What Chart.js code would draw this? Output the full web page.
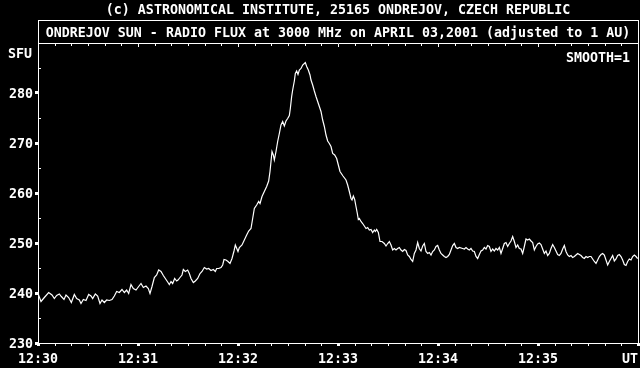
<!DOCTYPE html>
<html lang="en">
<head>
<meta charset="UTF-8">
<title>Ondrejov Sun - Radio Flux at 3000 MHz</title>
<script src="https://cdn.jsdelivr.net/npm/chart.js"></script>
<style>
    body {
        margin: 0;
        background-color: #000;
    }
    canvas {
        display: block;
    }
</style>
</head>
<body>
<canvas id="fluxChart" width="640" height="368"></canvas>
<script>
    // seconds after 12:30:00 UT
    const seconds = [
        0, 1.8, 3.8, 6.4, 8.4, 9.8, 11.2, 12.8, 14, 15.6, 16.8, 18.4, 20, 21.8, 23.2, 24.8, 25.8, 27.2, 28.8, 30.4,
        31.8, 32.8, 34.4, 35.8, 37.2, 38.4, 39.8, 41.2, 42.8, 44.4, 45.8, 47.2, 48.8, 50.4, 51.8, 53.2, 54.4, 55.8, 57.2,
        58.8, 60.4, 61.8, 63.2, 64.8, 66.2, 67.2, 68.4, 69.8, 71.2, 72.4, 73.8, 75.2, 76.8, 78, 78.8, 79.8, 80.8, 82, 83.2,
        84, 85.2, 86.4, 87.2, 88.4, 89.8, 90.8, 91.8, 93.2, 94.4, 95.8, 97.2, 98.4, 99.8, 101.2, 102.4, 103.8, 105.2, 106.4, 107.2,
        108.4, 109.8, 110.8, 111.6, 112.8, 114, 115.2, 116.4, 117.6, 118.4, 120, 120.8,
        122.4, 123.8, 125.2, 126.4, 127.8, 128.8, 129.8, 131.2, 132.4, 133.2, 134.4, 135.8, 137.2, 138.4, 139.2, 139.8, 140.4, 141.2, 141.8, 142.8,
        143.8, 144.8, 145.8, 146.8, 147.8, 148.8, 149.8, 150.8, 151.4, 152.2, 152.8, 153.8, 154.4, 155.2, 156, 156.8, 157.8, 158.8, 159.8, 160.4,
        161.2, 162.2, 163.2, 163.8, 164.8, 165.8, 166.8, 167.8, 168.8, 169.8, 170.8, 171.8, 172.8, 173.8, 174.8, 175.8, 176.8, 178, 179.2, 180.2,
        181.2, 183,
        184.8, 185.8, 186.8, 187.8, 188.4, 189.2, 190, 190.8, 191.6, 192.2, 192.8, 193.8, 194.8, 195.8, 196.8, 197.8, 198.8, 199.8, 200.8, 201.8,
        202.4, 203.2, 204.2, 205.2, 206.4, 207.8, 208.8, 209.8, 210.8, 211.8, 212.8, 213.8, 214.8, 215.8, 216.8, 217.8, 218.8, 219.8, 220.8, 221.8,
        222.8, 223.8, 224.8, 225.8, 226.8, 227.8, 228.8, 229.8, 230.8, 231.8, 232.8, 233.8, 234.8, 235.8, 236.8, 237.8,
        238.8, 239.8, 240.8, 241.8, 242.8, 243.8, 244.8, 245.8, 246.8, 247.8, 248.8, 249.8, 250.8, 251.8, 252.8, 254.8, 255.8, 256.8, 257.8, 258.8,
        259.8, 260.8, 261.8, 262.8, 263.8, 264.8, 265.8, 266.8, 267.8, 268.8, 269.8, 270.8, 271.8, 272.8, 273.8, 274.8, 275.8, 276.8, 277.8, 278.8,
        279.8, 280.8, 281.8, 282.8, 283.8, 284.8, 285.8, 286.8, 287.8, 288.8, 289.8, 290.8, 291.8, 292.8, 293.8, 294.8, 295.8, 296.8, 297.8, 298.8,
        299.8, 300.8,
        301.8, 302.8, 303.8, 304.8, 305.8, 306.8, 307.8, 308.8, 309.8, 310.8, 311.8, 312.8, 313.8, 314.8, 315.8, 316.8, 317.8, 318.8, 319.8, 320.8,
        321.8, 322.8, 323.8, 324.8, 325.8, 326.8, 327.8, 328.8, 329.8, 330.8, 331.8, 332.8, 333.8, 334.8, 335.8, 336.8, 337.8, 338.8, 339.8, 340.8,
        341.8, 342.8, 343.8, 344.8, 345.8, 346.8, 347.8, 348.8, 349.8, 350.8, 351.8, 352.8, 353.8, 354.8, 355.8, 356.8, 357.8, 358.8, 359.8
    ];

    // radio flux, SFU
    const flux = [
        239.9, 238.3, 239.1, 240.1, 239.6, 238.9, 239.5, 239.8, 239.3, 238.7, 239.6, 239.1, 238.1, 239.7, 238.9, 238.6, 237.9, 238.7, 238.5, 239.7,
        239.4, 238.9, 239.8, 239.4, 237.9, 238.6, 238.1, 238.6, 238.5, 238.7, 239.4, 240.3, 240.1, 240.7, 240.1, 240.6, 239.9, 241.7, 240.9,
        240.6, 241.3, 241.9, 241.1, 241.4, 240.9, 239.9, 241.3, 243.1, 243.6, 244.6, 244.3, 243.5, 242.7, 242.1, 241.7, 242.3, 241.9, 242.9, 242.4,
        242.6, 243.1, 243.6, 244.7, 244.3, 244.6, 243.9, 242.9, 242.1, 242.4, 242.9, 243.9, 244.3, 245.1, 244.8, 244.9, 244.5, 244.7, 244.3, 244.9,
        244.9, 245.1, 245.6, 246.7, 246.6, 246.3, 245.9, 246.9, 248.4, 249.6, 248.3, 249.1,
        249.6, 250.6, 251.6, 252.4, 252.9, 254.9, 256.9, 257.6, 258.3, 257.9, 259.3, 260.3, 261.3, 262.4, 264.3, 266.3, 268.3, 267.6, 266.6, 268.3,
        270.3, 271.9, 273.6, 274.3, 273.4, 274.4, 274.9, 275.5, 276.9, 279.3, 280.6, 282.4, 283.9, 284.4, 283.7, 284.6, 284.9, 285.6, 285.9, 286.1,
        285.3, 284.6, 283.6, 282.6, 281.6, 280.4, 279.3, 278.3, 277.3, 276.3, 274.6, 273.3, 271.6, 270.4, 269.9, 269.3, 267.9, 267.6, 266.9, 265.6,
        264.3, 263.4,
        262.6, 261.6, 260.3, 258.9, 258.6, 259.4, 258.7, 257.3, 255.9, 254.7, 254.9, 254.3, 253.9, 253.4, 252.9, 253.1, 252.6, 252.7, 252.1, 252.6,
        252.3, 252.7, 252.1, 250.3, 250.3, 249.9, 249.4, 249.9, 250.3, 249.6, 248.6, 248.9, 248.6, 248.9, 249.1, 248.6, 248.3, 248.7, 248.5, 247.6,
        247.3, 246.7, 246.3, 247.9, 248.6, 250.1, 248.9, 248.4, 249.4, 249.9, 248.3, 247.9, 248.1, 247.6, 248.3, 248.6,
        249.3, 249.5, 248.6, 247.9, 247.6, 247.3, 247.1, 247.3, 247.7, 248.6, 249.5, 249.9, 249.1, 248.9, 249.1, 248.9, 248.8, 249.1, 248.8, 248.6,
        248.9, 248.4, 248.3, 247.3, 246.9, 247.7, 248.4, 248.6, 249.1, 248.8, 249.5, 249.3, 248.3, 248.8, 248.4, 248.9, 248.6, 249.1, 247.9, 248.9,
        249.9, 250.1, 249.3, 249.9, 250.4, 251.3, 250.3, 249.1, 249.6, 248.9, 248.8, 247.9, 249.3, 250.8, 250.6, 250.8, 250.4, 250.1, 248.6, 249.3,
        249.8, 250.0,
        249.7, 248.8, 247.9, 248.4, 247.5, 247.9, 248.9, 249.7, 249.1, 248.4, 247.7, 247.5, 247.9, 248.8, 249.5, 248.3, 247.6, 247.3, 247.5, 247.1,
        247.3, 247.6, 247.9, 247.7, 247.5, 247.1, 246.9, 247.3, 247.1, 247.3, 247.3, 246.8, 246.3, 245.9, 246.6, 247.3, 247.7, 247.9, 247.6, 246.6,
        245.6, 246.3, 246.9, 247.5, 246.4, 246.8, 247.5, 247.7, 247.3, 246.6, 245.7, 245.5, 246.3, 246.8, 246.6, 247.3, 247.6, 247.3, 246.9
    ];

    const timeLabels = ['12:30', '12:31', '12:32', '12:33', '12:34', '12:35', 'UT'];
    const fluxMin = 230;
    const fluxMax = 290;
    const fluxStep = 10;

    const titleText = '(c) ASTRONOMICAL INSTITUTE, 25165 ONDREJOV, CZECH REPUBLIC';
    const subtitleText = 'ONDREJOV SUN - RADIO FLUX at 3000 MHz on APRIL 03,2001 (adjusted to 1 AU)';
    const unitText = 'SFU';
    const smoothText = 'SMOOTH=1';

    const monoFont = '"DejaVu Sans Mono", "Liberation Mono", monospace';
    const fontSize = 13.3;

    // box, header, small ticks and texts around the plot
    const framePlugin = {
        id: 'frame',
        afterDraw(chart) {
            const { ctx, chartArea: a, scales } = chart;
            const xs = scales.x, ys = scales.y;
            ctx.save();
            ctx.strokeStyle = '#fff';
            ctx.fillStyle = '#fff';
            ctx.lineWidth = 1;
            const boxTop = 20;
            ctx.strokeRect(a.left + 0.5, boxTop + 0.5, a.right - a.left, a.bottom - boxTop);
            ctx.beginPath();
            ctx.moveTo(a.left, a.top + 0.5);
            ctx.lineTo(a.right + 1, a.top + 0.5);
            ctx.stroke();

            // ticks every 10 s on the header line and the time axis
            for (let s = 0; s <= 360; s += 10) {
                const px = Math.round(xs.getPixelForValue(s));
                const major = s % 60 === 0;
                ctx.fillRect(px, a.top + 1, 1, major ? 3 : 2);
                if (!major) ctx.fillRect(px, a.bottom + 1, 1, 2);
            }
            // half-step ticks on the flux axis
            for (let v = fluxMin + fluxStep / 2; v < fluxMax; v += fluxStep) {
                const py = Math.round(ys.getPixelForValue(v));
                ctx.fillRect(a.left + 1, py, 2, 1);
            }

            ctx.font = 'bold ' + fontSize + 'px ' + monoFont;
            ctx.textBaseline = 'middle';
            ctx.textAlign = 'center';
            const mid = (a.left + a.right) / 2;
            ctx.fillText(titleText, mid, 10.5);
            ctx.fillText(subtitleText, mid, 33.5);
            ctx.textAlign = 'right';
            ctx.fillText(smoothText, a.right - 8, 59);
            ctx.textAlign = 'left';
            ctx.fillText(unitText, 8, 54.5);
            ctx.restore();
        }
    };

    const ctx = document.getElementById('fluxChart').getContext('2d');
    new Chart(ctx, {
        type: 'line',
        data: {
            datasets: [{
                label: 'Radio flux',
                data: seconds.map((s, i) => ({ x: s, y: flux[i] })),
                borderColor: '#fff',
                borderWidth: 1.2,
                pointRadius: 0,
                tension: 0,
                fill: false
            }]
        },
        options: {
            responsive: false,
            animation: false,
            devicePixelRatio: 1,
            layout: { padding: { top: 43, right: 2, left: 0, bottom: 0 } },
            plugins: {
                legend: { display: false },
                tooltip: { enabled: false }
            },
            scales: {
                x: {
                    type: 'linear',
                    min: 0,
                    max: 360,
                    border: { display: false },
                    grid: {
                        drawOnChartArea: false,
                        drawTicks: true,
                        tickLength: 3,
                        tickWidth: 3,
                        tickColor: '#fff'
                    },
                    ticks: {
                        stepSize: 60,
                        autoSkip: false,
                        maxRotation: 0,
                        padding: 6,
                        color: '#fff',
                        font: { family: monoFont, size: fontSize, weight: 'bold' },
                        callback: v => {
                            const lbl = timeLabels[Math.round(v / 60)];
                            return v === 360 ? lbl + '  ' : lbl;
                        }
                    },
                    afterFit: s => {
                        s.height = 25;
                        s.paddingLeft = 0;
                        s.paddingRight = 0;
                    }
                },
                y: {
                    min: fluxMin,
                    max: fluxMax,
                    border: { display: false },
                    grid: {
                        drawOnChartArea: false,
                        drawTicks: true,
                        tickLength: 3,
                        tickWidth: 3,
                        tickColor: c => (c.tick && c.tick.value === fluxMax) ? 'rgba(0,0,0,0)' : '#fff'
                    },
                    ticks: {
                        stepSize: fluxStep,
                        padding: 2,
                        labelOffset: 1.5,
                        color: '#fff',
                        font: { family: monoFont, size: fontSize, weight: 'bold' },
                        callback: v => v === fluxMax ? '' : v
                    },
                    afterFit: s => {
                        s.width = 38;
                        s.paddingTop = 0;
                        s.paddingBottom = 0;
                    }
                }
            }
        },
        plugins: [framePlugin]
    });
</script>
</body>
</html>
